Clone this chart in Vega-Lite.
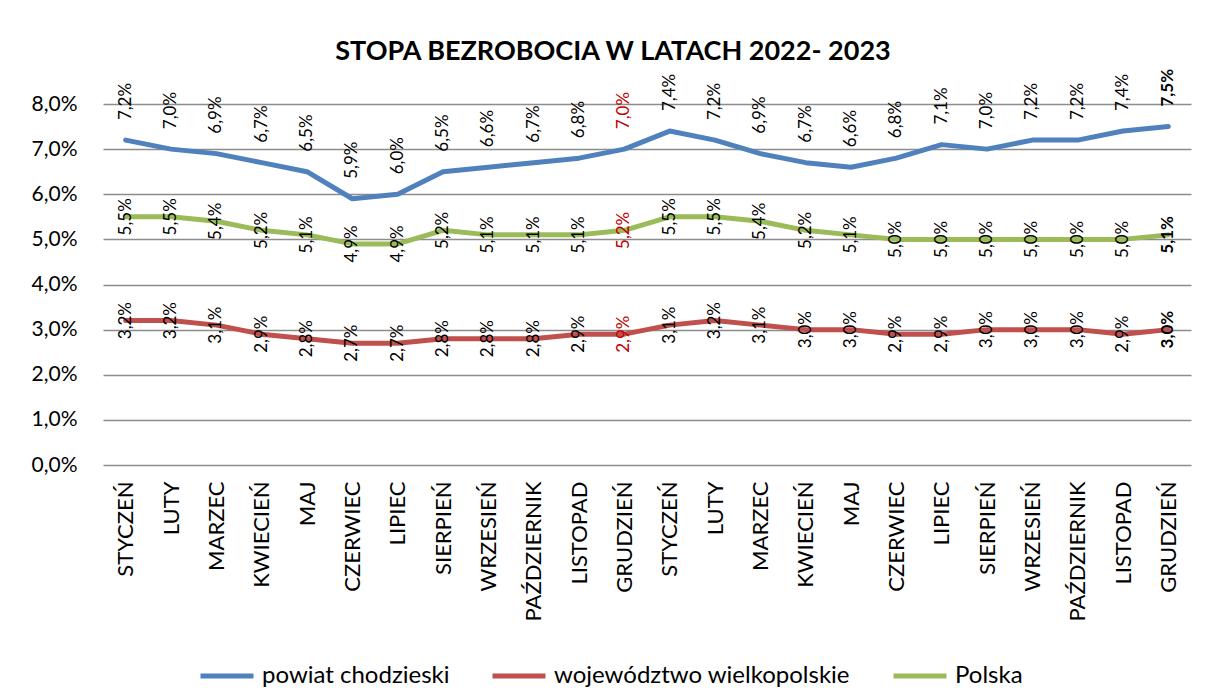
{
  "$schema": "https://vega.github.io/schema/vega-lite/v6.json",
  "autosize": {"type": "none"},
  "width": 1088,
  "height": 361,
  "padding": {"left": 103, "top": 104, "right": 15, "bottom": 232},
  "background": "white",
  "config": {
    "locale": {"number": {"decimal": ",", "thousands": " ", "grouping": [3], "currency": ["", " zł"]}},
    "font": "Lato",
    "view": {"stroke": null}
  },
  "title": {
    "text": "STOPA BEZROBOCIA W LATACH 2022- 2023",
    "fontSize": 27,
    "fontWeight": "bold",
    "color": "#000000",
    "font": "Lato",
    "anchor": "middle",
    "dx": -34,
    "offset": 3
  },
  "data": {
    "values": [
      {"okres": "STYCZEŃ 2022", "seria": "powiat chodzieski", "wartosc": 0.072},
      {"okres": "LUTY 2022", "seria": "powiat chodzieski", "wartosc": 0.070},
      {"okres": "MARZEC 2022", "seria": "powiat chodzieski", "wartosc": 0.069},
      {"okres": "KWIECIEŃ 2022", "seria": "powiat chodzieski", "wartosc": 0.067},
      {"okres": "MAJ 2022", "seria": "powiat chodzieski", "wartosc": 0.065},
      {"okres": "CZERWIEC 2022", "seria": "powiat chodzieski", "wartosc": 0.059},
      {"okres": "LIPIEC 2022", "seria": "powiat chodzieski", "wartosc": 0.060},
      {"okres": "SIERPIEŃ 2022", "seria": "powiat chodzieski", "wartosc": 0.065},
      {"okres": "WRZESIEŃ 2022", "seria": "powiat chodzieski", "wartosc": 0.066},
      {"okres": "PAŹDZIERNIK 2022", "seria": "powiat chodzieski", "wartosc": 0.067},
      {"okres": "LISTOPAD 2022", "seria": "powiat chodzieski", "wartosc": 0.068},
      {"okres": "GRUDZIEŃ 2022", "seria": "powiat chodzieski", "wartosc": 0.070},
      {"okres": "STYCZEŃ 2023", "seria": "powiat chodzieski", "wartosc": 0.074},
      {"okres": "LUTY 2023", "seria": "powiat chodzieski", "wartosc": 0.072},
      {"okres": "MARZEC 2023", "seria": "powiat chodzieski", "wartosc": 0.069},
      {"okres": "KWIECIEŃ 2023", "seria": "powiat chodzieski", "wartosc": 0.067},
      {"okres": "MAJ 2023", "seria": "powiat chodzieski", "wartosc": 0.066},
      {"okres": "CZERWIEC 2023", "seria": "powiat chodzieski", "wartosc": 0.068},
      {"okres": "LIPIEC 2023", "seria": "powiat chodzieski", "wartosc": 0.071},
      {"okres": "SIERPIEŃ 2023", "seria": "powiat chodzieski", "wartosc": 0.070},
      {"okres": "WRZESIEŃ 2023", "seria": "powiat chodzieski", "wartosc": 0.072},
      {"okres": "PAŹDZIERNIK 2023", "seria": "powiat chodzieski", "wartosc": 0.072},
      {"okres": "LISTOPAD 2023", "seria": "powiat chodzieski", "wartosc": 0.074},
      {"okres": "GRUDZIEŃ 2023", "seria": "powiat chodzieski", "wartosc": 0.075},
      {"okres": "STYCZEŃ 2022", "seria": "województwo wielkopolskie", "wartosc": 0.032},
      {"okres": "LUTY 2022", "seria": "województwo wielkopolskie", "wartosc": 0.032},
      {"okres": "MARZEC 2022", "seria": "województwo wielkopolskie", "wartosc": 0.031},
      {"okres": "KWIECIEŃ 2022", "seria": "województwo wielkopolskie", "wartosc": 0.029},
      {"okres": "MAJ 2022", "seria": "województwo wielkopolskie", "wartosc": 0.028},
      {"okres": "CZERWIEC 2022", "seria": "województwo wielkopolskie", "wartosc": 0.027},
      {"okres": "LIPIEC 2022", "seria": "województwo wielkopolskie", "wartosc": 0.027},
      {"okres": "SIERPIEŃ 2022", "seria": "województwo wielkopolskie", "wartosc": 0.028},
      {"okres": "WRZESIEŃ 2022", "seria": "województwo wielkopolskie", "wartosc": 0.028},
      {"okres": "PAŹDZIERNIK 2022", "seria": "województwo wielkopolskie", "wartosc": 0.028},
      {"okres": "LISTOPAD 2022", "seria": "województwo wielkopolskie", "wartosc": 0.029},
      {"okres": "GRUDZIEŃ 2022", "seria": "województwo wielkopolskie", "wartosc": 0.029},
      {"okres": "STYCZEŃ 2023", "seria": "województwo wielkopolskie", "wartosc": 0.031},
      {"okres": "LUTY 2023", "seria": "województwo wielkopolskie", "wartosc": 0.032},
      {"okres": "MARZEC 2023", "seria": "województwo wielkopolskie", "wartosc": 0.031},
      {"okres": "KWIECIEŃ 2023", "seria": "województwo wielkopolskie", "wartosc": 0.030},
      {"okres": "MAJ 2023", "seria": "województwo wielkopolskie", "wartosc": 0.030},
      {"okres": "CZERWIEC 2023", "seria": "województwo wielkopolskie", "wartosc": 0.029},
      {"okres": "LIPIEC 2023", "seria": "województwo wielkopolskie", "wartosc": 0.029},
      {"okres": "SIERPIEŃ 2023", "seria": "województwo wielkopolskie", "wartosc": 0.030},
      {"okres": "WRZESIEŃ 2023", "seria": "województwo wielkopolskie", "wartosc": 0.030},
      {"okres": "PAŹDZIERNIK 2023", "seria": "województwo wielkopolskie", "wartosc": 0.030},
      {"okres": "LISTOPAD 2023", "seria": "województwo wielkopolskie", "wartosc": 0.029},
      {"okres": "GRUDZIEŃ 2023", "seria": "województwo wielkopolskie", "wartosc": 0.030},
      {"okres": "STYCZEŃ 2022", "seria": "Polska", "wartosc": 0.055},
      {"okres": "LUTY 2022", "seria": "Polska", "wartosc": 0.055},
      {"okres": "MARZEC 2022", "seria": "Polska", "wartosc": 0.054},
      {"okres": "KWIECIEŃ 2022", "seria": "Polska", "wartosc": 0.052},
      {"okres": "MAJ 2022", "seria": "Polska", "wartosc": 0.051},
      {"okres": "CZERWIEC 2022", "seria": "Polska", "wartosc": 0.049},
      {"okres": "LIPIEC 2022", "seria": "Polska", "wartosc": 0.049},
      {"okres": "SIERPIEŃ 2022", "seria": "Polska", "wartosc": 0.052},
      {"okres": "WRZESIEŃ 2022", "seria": "Polska", "wartosc": 0.051},
      {"okres": "PAŹDZIERNIK 2022", "seria": "Polska", "wartosc": 0.051},
      {"okres": "LISTOPAD 2022", "seria": "Polska", "wartosc": 0.051},
      {"okres": "GRUDZIEŃ 2022", "seria": "Polska", "wartosc": 0.052},
      {"okres": "STYCZEŃ 2023", "seria": "Polska", "wartosc": 0.055},
      {"okres": "LUTY 2023", "seria": "Polska", "wartosc": 0.055},
      {"okres": "MARZEC 2023", "seria": "Polska", "wartosc": 0.054},
      {"okres": "KWIECIEŃ 2023", "seria": "Polska", "wartosc": 0.052},
      {"okres": "MAJ 2023", "seria": "Polska", "wartosc": 0.051},
      {"okres": "CZERWIEC 2023", "seria": "Polska", "wartosc": 0.050},
      {"okres": "LIPIEC 2023", "seria": "Polska", "wartosc": 0.050},
      {"okres": "SIERPIEŃ 2023", "seria": "Polska", "wartosc": 0.050},
      {"okres": "WRZESIEŃ 2023", "seria": "Polska", "wartosc": 0.050},
      {"okres": "PAŹDZIERNIK 2023", "seria": "Polska", "wartosc": 0.050},
      {"okres": "LISTOPAD 2023", "seria": "Polska", "wartosc": 0.050},
      {"okres": "GRUDZIEŃ 2023", "seria": "Polska", "wartosc": 0.051}
    ]
  },
  "encoding": {
    "x": {
      "field": "okres",
      "type": "ordinal",
      "sort": null,
      "title": null,
      "axis": {
        "labelExpr": "split(datum.label, ' ')[0]",
        "labelAngle": 270,
        "labelFont": "Lato",
        "labelFontSize": 22,
        "labelColor": "#000000",
        "labelPadding": 16,
        "ticks": false,
        "domain": false,
        "grid": false
      }
    },
    "y": {
      "field": "wartosc",
      "type": "quantitative",
      "title": null,
      "scale": {"domain": [0, 0.08], "nice": false},
      "axis": {
        "format": ".1%",
        "values": [0, 0.01, 0.02, 0.03, 0.04, 0.05, 0.06, 0.07, 0.08],
        "labelFont": "Lato",
        "labelFontSize": 21,
        "labelColor": "#000000",
        "labelPadding": 26,
        "ticks": false,
        "domain": false,
        "grid": true,
        "gridColor": "#8C8C8C",
        "gridWidth": 1.5
      }
    }
  },
  "layer": [
    {
      "mark": {"type": "line", "strokeWidth": 5, "strokeCap": "round", "strokeJoin": "round"},
      "encoding": {
        "color": {
          "field": "seria",
          "type": "nominal",
          "scale": {
            "domain": ["powiat chodzieski", "województwo wielkopolskie", "Polska"],
            "range": ["#4F81BD", "#C0504D", "#9BBB59"]
          },
          "legend": {
            "title": null,
            "orient": "none",
            "legendX": 95,
            "legendY": 543,
            "direction": "horizontal",
            "symbolType": "stroke",
            "symbolSize": 2809,
            "symbolStrokeWidth": 5,
            "labelFont": "Lato",
            "labelFontSize": 24,
            "labelColor": "#000000",
            "labelOffset": 6,
            "columnPadding": 32,
            "labelLimit": 400
          }
        }
      }
    },
    {
      "transform": [
        {"filter": "datum.seria == 'powiat chodzieski' && datum.okres != 'GRUDZIEŃ 2023'"}
      ],
      "mark": {"type": "text", "angle": 270, "align": "left", "baseline": "middle", "dx": 20, "fontSize": 17, "font": "Lato"},
      "encoding": {
        "text": {"field": "wartosc", "type": "quantitative", "format": ".1%"},
        "color": {"condition": {"test": "datum.okres == 'GRUDZIEŃ 2022'", "value": "#C00000"}, "value": "#000000"}
      }
    },
    {
      "transform": [
        {"filter": "datum.seria == 'powiat chodzieski' && datum.okres == 'GRUDZIEŃ 2023'"}
      ],
      "mark": {"type": "text", "angle": 270, "align": "left", "baseline": "middle", "dx": 20, "fontSize": 17, "font": "Lato", "fontWeight": "bold", "color": "#000000"},
      "encoding": {
        "text": {"field": "wartosc", "type": "quantitative", "format": ".1%"}
      }
    },
    {
      "transform": [
        {"filter": "datum.seria != 'powiat chodzieski' && datum.okres != 'GRUDZIEŃ 2023'"}
      ],
      "mark": {"type": "text", "angle": 270, "align": "center", "baseline": "middle", "fontSize": 17, "font": "Lato"},
      "encoding": {
        "text": {"field": "wartosc", "type": "quantitative", "format": ".1%"},
        "color": {"condition": {"test": "datum.okres == 'GRUDZIEŃ 2022'", "value": "#C00000"}, "value": "#000000"}
      }
    },
    {
      "transform": [
        {"filter": "datum.seria != 'powiat chodzieski' && datum.okres == 'GRUDZIEŃ 2023'"}
      ],
      "mark": {"type": "text", "angle": 270, "align": "center", "baseline": "middle", "fontSize": 17, "font": "Lato", "fontWeight": "bold", "color": "#000000"},
      "encoding": {
        "text": {"field": "wartosc", "type": "quantitative", "format": ".1%"}
      }
    }
  ]
}
